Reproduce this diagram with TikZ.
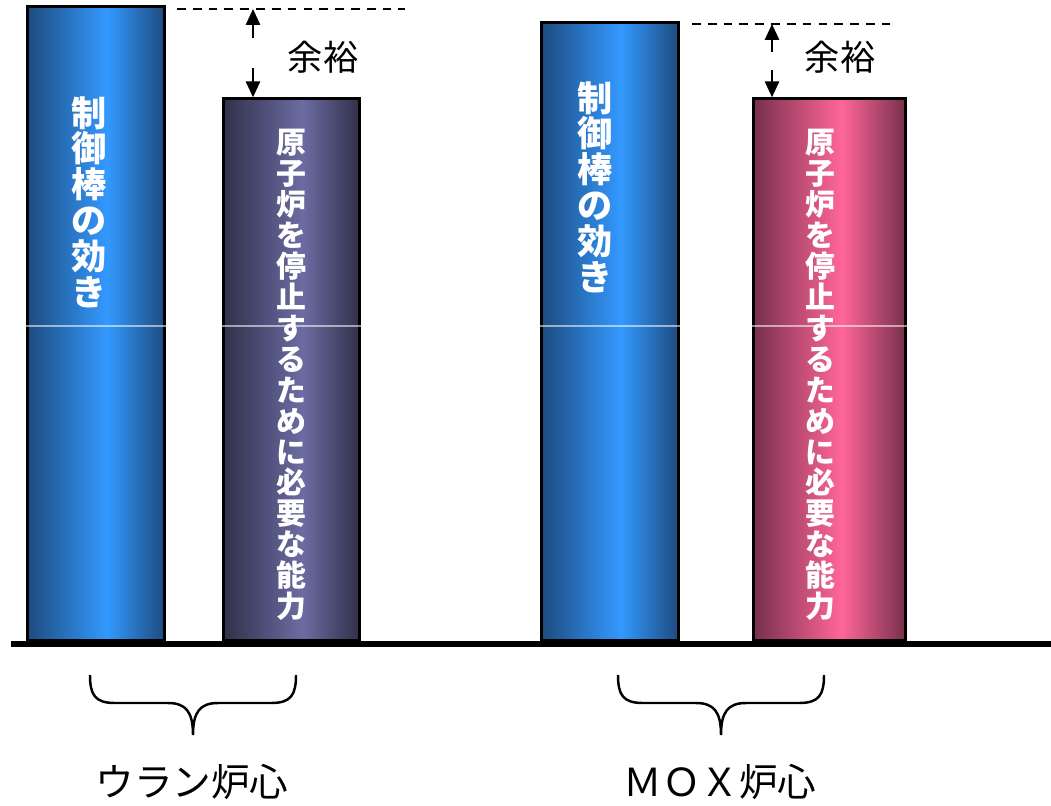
\documentclass[tikz,border=0pt]{standalone}
\usepackage{fontspec}
\newfontfamily\jpfont{Noto Sans CJK JP}
\usetikzlibrary{arrows.meta,positioning}

\definecolor{blueedge}{HTML}{1D4B7E}
\definecolor{bluemid}{HTML}{3399FF}
\definecolor{violedge}{HTML}{30304A}
\definecolor{violmid}{HTML}{6C6CA3}
\definecolor{pinkedge}{HTML}{77304C}
\definecolor{pinkmid}{HTML}{FF6699}

\pgfdeclarehorizontalshading{rodblue}{100bp}{color(0bp)=(blueedge); color(25bp)=(blueedge);
  color(54bp)=(bluemid); color(75bp)=(blueedge); color(100bp)=(blueedge)}
\pgfdeclarehorizontalshading{rodviol}{100bp}{color(0bp)=(violedge); color(25bp)=(violedge);
  color(54bp)=(violmid); color(75bp)=(violedge); color(100bp)=(violedge)}
\pgfdeclarehorizontalshading{rodpink}{100bp}{color(0bp)=(pinkedge); color(25bp)=(pinkedge);
  color(54bp)=(pinkmid); color(75bp)=(pinkedge); color(100bp)=(pinkedge)}

\begin{document}
\begin{tikzpicture}[x=0.02cm, y=-0.02cm,
    rod/.style={draw=black, line width=1.6pt, inner sep=0pt, anchor=south west,
      minimum width=2.74cm},
    rodtext/.style={text=white, align=center, inner sep=0pt,
      font=\jpfont\bfseries\fontsize{20}{20.4}\selectfont},
    captext/.style={text=white, align=center, inner sep=0pt,
      font=\jpfont\bfseries\fontsize{17}{17.6}\selectfont},
    sepline/.style={white, opacity=0.55, line width=0.6pt},
    dashline/.style={dashed, dash pattern=on 5pt off 4pt, line width=1pt},
    marg/.style={-{Triangle[width=8pt,length=9pt]}, line width=1.3pt},
    lbl/.style={font=\jpfont\fontsize{20}{20}\selectfont},
    corelbl/.style={font=\jpfont\fontsize{22}{22}\selectfont},
    brace/.style={line width=1.4pt}]
  \useasboundingbox (0,0) rectangle (1051,805);

  % bars
  \node[rod, shading=rodblue, minimum height=12.68cm] (rodU) at (26,642) {};
  \node[rod, shading=rodviol, minimum height=10.84cm, minimum width=2.72cm] (stopU) at (222,642) {};
  \node[rod, shading=rodblue, minimum height=12.36cm] (rodM) at (540,642) {};
  \node[rod, shading=rodpink, minimum height=10.84cm, minimum width=3.04cm] (stopM) at (752,642) {};

  \coordinate (mid) at (0,326);
  \foreach \b in {rodU,stopU,rodM,stopM}
    \draw[sepline] (\b.west |- mid) -- (\b.east |- mid);

  \node[rodtext] (txtrodU) at (89,202) {制\\御\\棒\\の\\効\\き};
  \node[rodtext] (txtrodM) at (595,187) {制\\御\\棒\\の\\効\\き};
  \node[captext] (txtstopU) at (291,375)
    {原\\子\\炉\\を\\停\\止\\す\\る\\た\\め\\に\\必\\要\\な\\能\\力};
  \node[captext] (txtstopM) at (820,375)
    {原\\子\\炉\\を\\停\\止\\す\\る\\た\\め\\に\\必\\要\\な\\能\\力};

  % ground line
  \coordinate (gl) at (11,644);
  \coordinate (gr) at (1051,644);
  \draw[line width=3.4pt] (gl) -- (gr);

  % margins
  \coordinate (dashU1) at (177,9);
  \coordinate (dashU2) at (405,9);
  \coordinate (topU) at (253,9);
  \coordinate (mU1) at (253,38);
  \coordinate (mU2) at (253,68);
  \draw[dashline] (dashU1) -- (dashU2);
  \draw[marg] (mU1) -- (topU);
  \draw[marg] (mU2) -- (topU |- stopU.north);
  \node[lbl] (margU) at (323,57) {余裕};

  \coordinate (dashM1) at (692,24);
  \coordinate (dashM2) at (890,24);
  \coordinate (topM) at (772,24);
  \coordinate (mM1) at (772,52);
  \coordinate (mM2) at (772,70);
  \draw[dashline] (dashM1) -- (dashM2);
  \draw[marg] (mM1) -- (topM);
  \draw[marg] (mM2) -- (topM |- stopM.north);
  \node[lbl] (margM) at (840,57) {余裕};

  % braces
  \foreach \l/\m/\r in {90/193/296, 618/721/824}
    \draw[brace] (\l,675) .. controls (\l,695) and (\l+5,703) .. (\l+25,703)
      -- (\m-25,703) .. controls (\m-7,703) and (\m,712) .. (\m,735)
      .. controls (\m,712) and (\m+7,703) .. (\m+25,703)
      -- (\r-25,703) .. controls (\r-5,703) and (\r,695) .. (\r,675);

  \node[corelbl] (coreU) at (192,782) {ウラン炉心};
  \node[corelbl] (coreM) at (720,782) {ＭＯＸ炉心};
\end{tikzpicture}
\end{document}
